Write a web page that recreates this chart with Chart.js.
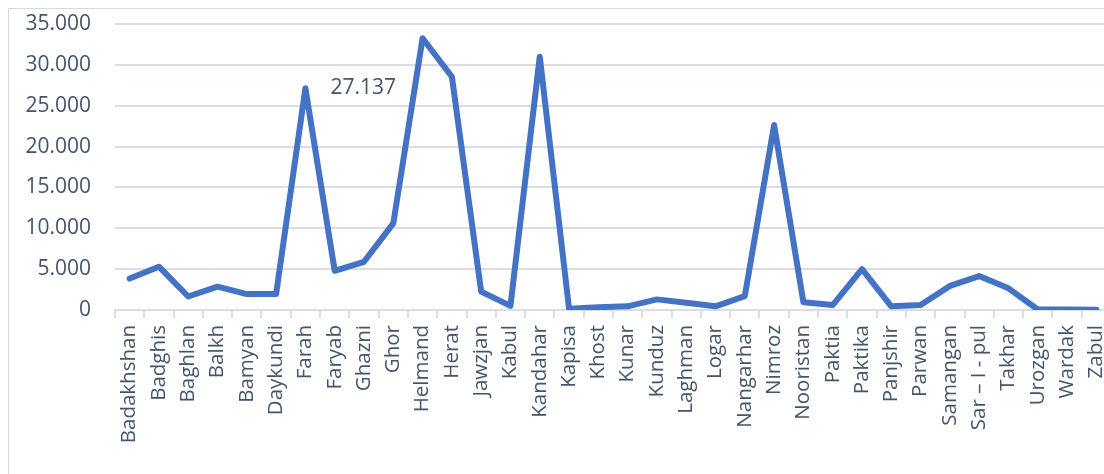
<!DOCTYPE html>
<html>
<head>
<meta charset="utf-8">
<script src="https://cdn.jsdelivr.net/npm/chart.js@4"></script>
<style>
  html, body { margin: 0; padding: 0; width: 1104px; height: 474px; overflow: hidden; background: #fff; }
  #frame { position: absolute; left: 8px; top: 8px; width: 1200px; height: 600px; border: 1px solid #d6dae0; box-sizing: border-box; }
  #wrap { position: absolute; left: 0; top: 0; width: 1130px; height: 474px; }
</style>
</head>
<body>
<div id="frame"></div>
<div id="wrap"><canvas id="c"></canvas></div>
<script>
const provinces = ["Badakhshan","Badghis","Baghlan","Balkh","Bamyan","Daykundi","Farah","Faryab","Ghazni","Ghor","Helmand","Herat","Jawzjan","Kabul","Kandahar","Kapisa","Khost","Kunar","Kunduz","Laghman","Logar","Nangarhar","Nimroz","Nooristan","Paktia","Paktika","Panjshir","Parwan","Samangan","Sar – I - pul","Takhar","Urozgan","Wardak","Zabul"];
const values = [3850,5300,1650,2850,1950,1950,27137,4800,5900,10600,33250,28550,2250,500,31000,150,350,450,1300,900,450,1700,22650,950,600,5000,450,600,2950,4150,2650,60,50,40];
const yTicks = [0,5000,10000,15000,20000,25000,30000,35000];
const labelledIndex = 6;

const fmt = v => String(Math.round(v)).replace(/\B(?=(\d{3})+(?!\d))/g, '.');
const textColor = '#44546A';
const gridColor = '#dadee4';
const fontFamily = "'Open Sans', sans-serif";

const dataLabel = {
  id: 'dataLabel',
  afterDatasetsDraw(chart) {
    const meta = chart.getDatasetMeta(0);
    const pt = meta.data[labelledIndex];
    const ctx = chart.ctx;
    ctx.save();
    ctx.font = "21px " + fontFamily;
    ctx.fillStyle = textColor;
    ctx.textAlign = 'left';
    ctx.textBaseline = 'middle';
    ctx.fillText(fmt(values[labelledIndex]), pt.x + 25, pt.y);
    ctx.restore();
  }
};

new Chart(document.getElementById('c'), {
  type: 'line',
  data: {
    labels: provinces,
    datasets: [{
      data: values,
      borderColor: '#4472C4',
      borderWidth: 6,
      borderJoinStyle: 'round',
      borderCapStyle: 'round',
      pointRadius: 0,
      tension: 0,
      fill: false
    }]
  },
  options: {
    responsive: true,
    maintainAspectRatio: false,
    animation: false,
    layout: { padding: { left: 0, top: 24, right: 19, bottom: 0 } },
    plugins: { legend: { display: false }, tooltip: { enabled: false } },
    scales: {
      x: {
        offset: true,
        grid: { offset: true, drawOnChartArea: false, drawTicks: true, tickLength: 8, color: gridColor, lineWidth: 2 },
        border: { display: true, color: gridColor, width: 2 },
        ticks: { autoSkip: false, maxRotation: 90, minRotation: 90, padding: 7, color: textColor, font: { family: fontFamily, size: 20.5 } },
        afterFit(scale) { scale.height = 164; }
      },
      y: {
        min: 0, max: 35000,
        afterBuildTicks(scale) { scale.ticks = yTicks.map(v => ({ value: v })); },
        grid: { drawTicks: true, tickLength: 24, tickColor: 'rgba(0,0,0,0)', color: gridColor, lineWidth: 2 },
        border: { display: false },
        ticks: { padding: 0, color: textColor, font: { family: fontFamily, size: 21 }, callback: v => fmt(v) },
        afterFit(scale) { scale.width = 115; }
      }
    }
  },
  plugins: [dataLabel]
});
</script>
</body>
</html>
